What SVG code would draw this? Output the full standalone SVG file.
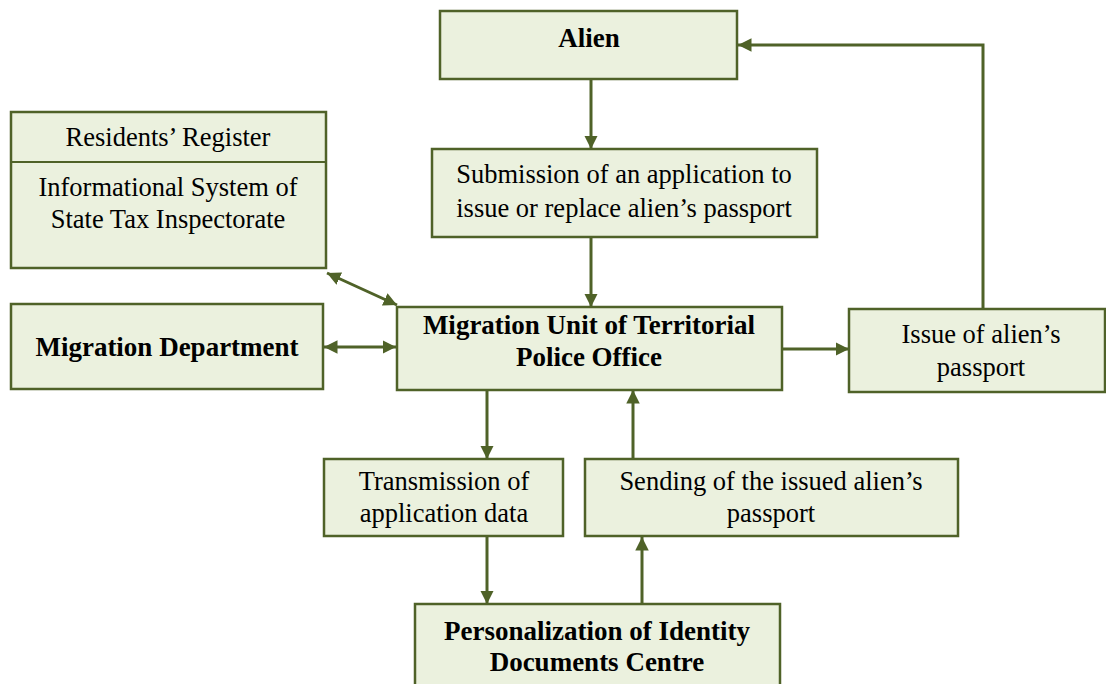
<svg xmlns="http://www.w3.org/2000/svg" width="1106" height="684" viewBox="0 0 1106 684">
<style>
.box{fill:#ebf1de;stroke:#4f6228;stroke-width:2.5}
.t{font-family:"Liberation Serif","Times New Roman",serif;font-size:26.5px;fill:#000;text-anchor:middle}
.b{font-weight:bold;font-size:27px}
.c{stroke:#4f6228;stroke-width:3;fill:none}
</style>
<defs>
<marker id="ah" viewBox="0 0 10 10" refX="10" refY="5" markerWidth="4.5" markerHeight="4.5" markerUnits="strokeWidth" orient="auto-start-reverse">
<path d="M0,0 L10,5 L0,10 z" fill="#4f6228"/>
</marker>
</defs>
<rect width="1106" height="684" fill="#fff"/>
<g id="connectors">
<path class="c" d="M591,79 V149" marker-end="url(#ah)"/>
<path class="c" d="M591,237 V307" marker-end="url(#ah)"/>
<path class="c" d="M983,308 V45 H738" marker-end="url(#ah)"/>
<path class="c" d="M327,273 L397,305" marker-start="url(#ah)" marker-end="url(#ah)"/>
<path class="c" d="M324,347 H396" marker-start="url(#ah)" marker-end="url(#ah)"/>
<path class="c" d="M782,349 H849" marker-end="url(#ah)"/>
<path class="c" d="M487,390 V459" marker-end="url(#ah)"/>
<path class="c" d="M633,459 V390" marker-end="url(#ah)"/>
<path class="c" d="M487,537 V604" marker-end="url(#ah)"/>
<path class="c" d="M642,604 V537" marker-end="url(#ah)"/>
</g>
<g id="alien">
<rect class="box" x="440" y="11" width="297" height="68"/>
<text class="t b" x="589" y="47">Alien</text>
</g>
<g id="registers">
<rect class="box" x="11" y="112" width="315" height="156"/>
<line x1="11" y1="162" x2="326" y2="162" stroke="#4f6228" stroke-width="2"/>
<text class="t" x="168" y="146">Residents’ Register</text>
<text class="t" x="168" y="196">Informational System of</text>
<text class="t" x="168" y="228">State Tax Inspectorate</text>
</g>
<g id="submission">
<rect class="box" x="432" y="149" width="385" height="88"/>
<text class="t" x="624" y="183">Submission of an application to</text>
<text class="t" x="624" y="217">issue or replace alien’s passport</text>
</g>
<g id="migration-department">
<rect class="box" x="11" y="304" width="312" height="85"/>
<text class="t b" x="167" y="356">Migration Department</text>
</g>
<g id="migration-unit">
<rect class="box" x="397" y="307" width="385" height="83"/>
<text class="t b" x="589" y="334">Migration Unit of Territorial</text>
<text class="t b" x="589" y="366">Police Office</text>
</g>
<g id="issue">
<rect class="box" x="849" y="309" width="256" height="83"/>
<text class="t" x="981" y="343">Issue of alien’s</text>
<text class="t" x="981" y="376">passport</text>
</g>
<g id="transmission">
<rect class="box" x="324" y="459" width="239" height="77"/>
<text class="t" x="444" y="490">Transmission of</text>
<text class="t" x="444" y="522">application data</text>
</g>
<g id="sending">
<rect class="box" x="585" y="459" width="373" height="77"/>
<text class="t" x="771" y="490">Sending of the issued alien’s</text>
<text class="t" x="771" y="522">passport</text>
</g>
<g id="personalization">
<rect class="box" x="415" y="604" width="365" height="90"/>
<text class="t b" x="597" y="640">Personalization of Identity</text>
<text class="t b" x="597" y="671">Documents Centre</text>
</g>
</svg>
